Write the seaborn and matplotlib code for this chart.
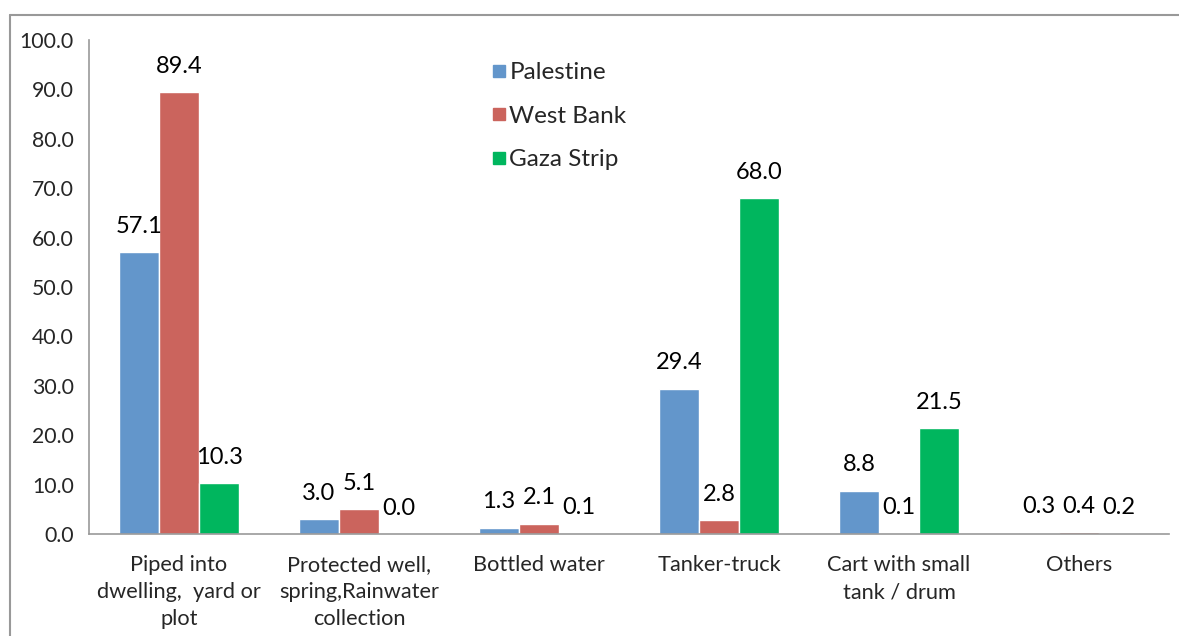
import matplotlib
matplotlib.use("Agg")
import matplotlib.pyplot as plt
import seaborn as sns
import pandas as pd
from matplotlib.lines import Line2D

categories = ["Piped into\ndwelling,  yard or\nplot",
              "Protected well,\nspring,Rainwater\ncollection",
              "Bottled water", "Tanker-truck",
              "Cart with small\ntank / drum", "Others"]
series = ["Palestine", "West Bank", "Gaza Strip"]
palestine = [57.1, 3.0, 1.3, 29.4, 8.8, 0.3]
west_bank = [89.4, 5.1, 2.1, 2.8, 0.1, 0.4]
gaza = [10.3, 0.0, 0.1, 68.0, 21.5, 0.2]
colors = ["#6396CB", "#CB645D", "#00B65E"]
yticks = [0, 10, 20, 30, 40, 50, 60, 70, 80, 90, 100]

rows = []
for name, vals in zip(series, [palestine, west_bank, gaza]):
    for c, v in zip(categories, vals):
        rows.append({"cat": c, "series": name, "value": v})
df = pd.DataFrame(rows)

sns.set_style("white")
plt.rcParams["font.family"] = ["Lato", "DejaVu Sans"]

fig = plt.figure(figsize=(11.79, 6.36), dpi=100)
ax = fig.add_axes([89/1179, 102/636, (1169-89)/1179, (534-40)/636])

sns.barplot(data=df, x="cat", y="value", hue="series", palette=colors,
            order=categories, hue_order=series, width=0.667, saturation=1,
            errorbar=None, ax=ax, legend=False)

for cont in ax.containers:
    ax.bar_label(cont, fmt="%.1f", padding=11, fontsize=17, color="black")

ax.set_ylim(0, 100)
ax.set_xlim(-0.5, len(categories) - 0.5)
ax.set_yticks(yticks)
ax.set_yticklabels([f"{t:.1f}" for t in yticks], fontsize=15.3)
ax.set_xticks(range(len(categories)))
ax.set_xticklabels(categories, fontsize=15.7, linespacing=1.45)
ax.set_xticks([i - 0.5 for i in range(len(categories) + 1)], minor=True)
ax.tick_params(axis="x", which="major", length=0, pad=15)
ax.tick_params(axis="x", which="minor", length=5, color="#999999", width=1.2, direction="out")
ax.tick_params(axis="y", length=5, color="#999999", width=1.2, direction="out", pad=6)
ax.set_xlabel("")
ax.set_ylabel("")
for s in ["top", "right"]:
    ax.spines[s].set_visible(False)
for s in ["left", "bottom"]:
    ax.spines[s].set_color("#999999")
    ax.spines[s].set_linewidth(1.2)

handles = [Line2D([0], [0], marker="s", linestyle="", markersize=9,
                  markerfacecolor=c, markeredgecolor=c) for c in colors]
ax.legend(handles, series, loc="upper left", bbox_to_anchor=(0.3645, 0.975),
          frameon=False, fontsize=17.5, handlelength=0.55, handletextpad=0.15,
          labelspacing=0.93, borderaxespad=0)

ytop = 1 - 15/636
xl = 10/1179
fig.add_artist(Line2D([xl, 1.0], [ytop, ytop], transform=fig.transFigure,
                      color="#999999", linewidth=1.5))
fig.add_artist(Line2D([xl, xl], [0, ytop], transform=fig.transFigure,
                      color="#999999", linewidth=1.5))

fig.savefig("out.png", dpi=100)
